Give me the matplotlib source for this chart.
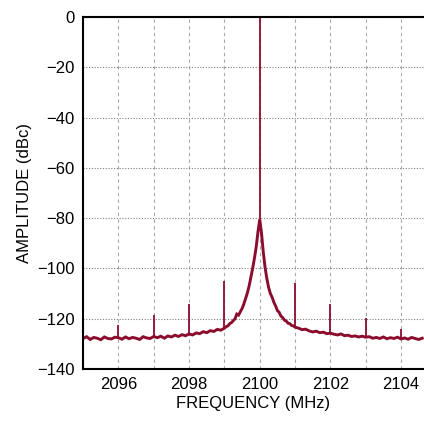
import matplotlib.pyplot as plt
import numpy as np

# spectrum trace (MHz, dBc)
freq_left = np.round(np.arange(2095.0, 2098.95, 0.1), 2)
amp_left = [-127.9, -127.2, -128.3, -127.5, -127.8, -128.4, -127.3, -127.9, -128.1, -127.4,
            -127.6, -128.2, -127.3, -128.0, -127.5, -127.8, -128.3, -127.2, -127.7, -127.9,
            -127.1, -127.6, -127.0, -127.8, -126.9, -127.3, -126.6, -127.1, -126.4, -126.8,
            -126.1, -126.5, -125.7, -126.0, -125.2, -125.6, -124.8, -125.1, -124.3, -124.6]

freq_mid = np.round(np.arange(2099.0, 2101.01, 0.05), 2)
amp_mid = [-123.8, -123.2, -122.9, -122.0, -121.6, -120.8, -120.1, -118.2, -118.6, -117.3,
           -116.0, -114.2, -112.0, -109.8, -107.0, -103.5, -100.0, -96.0, -91.5, -85.5,
           -80.5,
           -86.0, -93.5, -99.5, -104.0, -107.5, -110.0, -111.5, -113.5, -115.0, -116.8,
           -117.5, -119.0, -119.6, -120.6, -121.0, -121.8, -122.0, -122.7, -122.9, -123.4]

freq_right = np.round(np.arange(2101.1, 2104.65, 0.1), 2)
amp_right = [-123.8, -124.4, -124.2, -124.9, -125.3, -125.0, -125.6, -125.4, -126.0, -125.8,
             -126.2, -126.5, -126.1, -126.8, -126.6, -127.1, -126.9, -127.3, -127.0, -127.4,
             -127.2, -127.8, -127.5, -127.9, -127.3, -128.0, -127.6, -127.9, -127.4, -128.1,
             -127.7, -128.2, -127.5, -127.9, -128.3, -127.8]

# carrier and spurs: position, base (floor under it) and tip
spur_freq = [2096, 2097, 2098, 2099, 2100, 2101, 2102, 2103, 2104]
spur_base = [-127.7, -127.3, -126.1, -123.8, -80.5, -123.4, -126.1, -127.3, -127.7]
spur_peak = [-122.5, -118.5, -114.2, -104.9, 0.0, -106.0, -114.2, -119.6, -124.1]

color = '#8c0c2e'

plt.rcParams['font.family'] = ['Liberation Sans Narrow', 'Liberation Sans', 'DejaVu Sans']

fig = plt.figure(figsize=(4.24, 4.24), dpi=100)
ax = fig.add_axes([0.196, 0.130, 0.804, 0.830])

freq = np.concatenate([freq_left, freq_mid, freq_right])
amp = np.concatenate([amp_left, amp_mid, amp_right])
ax.plot(freq, amp, color=color, linewidth=2.1, solid_joinstyle='miter')
ax.vlines(spur_freq, spur_base, spur_peak, color=color, linewidth=1.3)

ax.set_xlim(2095, 2104.65)
ax.set_ylim(-140, 0)
ax.set_xticks(np.arange(2096, 2105, 2))
ax.set_xticks(np.arange(2096, 2105, 1), minor=True)
ax.set_yticks(np.arange(-140, 1, 20))
ax.set_yticklabels(['\u2212140', '\u2212120', '\u2212100', '\u221280', '\u221260', '\u221240', '\u221220', '0'])

ax.grid(axis='x', which='both', color='#a8a8a8', linestyle=(0, (3, 3)), linewidth=0.8)
ax.grid(axis='y', which='major', color='#808080', linestyle=(0, (1, 1.5)), linewidth=0.8)
ax.set_axisbelow(True)

ax.tick_params(which='both', length=0, labelsize=12, pad=6)
for s in ax.spines.values():
    s.set_linewidth(1.5)
ax.spines['right'].set_visible(False)

ax.set_xlabel('FREQUENCY (MHz)', fontsize=12, labelpad=3)
ax.set_ylabel('AMPLITUDE (dBc)', fontsize=12, labelpad=4)

plt.savefig('out.png', dpi=100)
